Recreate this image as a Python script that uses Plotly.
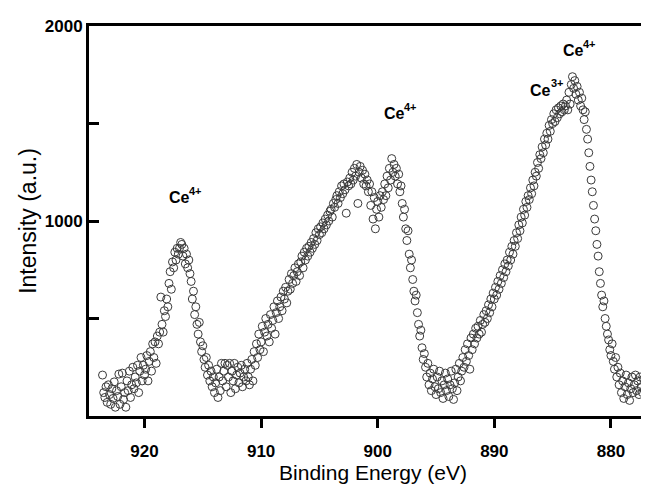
import plotly.graph_objects as go

# Ce 3d XPS spectrum, 0.1 eV steps starting at 923.6 eV (descending)
start_energy = 923.6
energy_step = 0.1

intensity = [
    210, 120, 95, 150, 70, 160,                                  # 923.6-923.1
    110, 60, 140, 90, 175, 45, 130, 100, 215, 60,                # 923.0-922.1
    150, 220, 85, 120, 45, 180, 130, 230, 95, 160,               # 922.0-921.1
    250, 140, 200, 170, 260, 120, 230, 300, 180, 260,            # 921.0-920.1
    210, 240, 310, 180, 280, 330, 230, 370, 300, 380,            # 920.0-919.1
    270, 410, 370, 430, 610, 470, 430, 540, 510, 600,            # 919.0-918.1
    560, 680, 740, 650, 790, 760, 840, 800, 860, 830,            # 918.0-917.1
    860, 890, 880, 820, 860, 780, 830, 760, 800, 730,            # 917.0-916.1
    690, 600, 640, 520, 560, 470, 420, 480, 380, 330,            # 916.0-915.1
    360, 290, 250, 300, 210, 260, 180, 230, 150, 200,            # 915.0-914.1
    120, 170, 240, 95, 200, 130, 270, 180, 230, 270,             # 914.0-913.1
    150, 260, 200, 270, 120, 230, 180, 270, 140, 210,            # 913.0-912.1
    250, 170, 220, 260, 150, 200, 240, 180, 270, 200,            # 912.0-911.1
    160, 240, 290, 180, 330, 260, 370, 300, 420, 340,            # 911.0-910.1
    380, 460, 330, 430, 500, 410, 470, 380, 520, 450,            # 910.0-909.1
    490, 560, 420, 530, 590, 500, 560, 610, 540, 640,            # 909.0-908.1
    600, 660, 580, 640, 700, 650, 730, 680, 720, 760,            # 908.0-907.1
    690, 740, 780, 720, 790, 820, 760, 840, 800, 860,            # 907.0-906.1
    820, 870, 840, 890, 860, 910, 880, 940, 900, 960,            # 906.0-905.1
    930, 970, 940, 990, 960, 1010, 980, 1030, 1000, 1050,        # 905.0-904.1
    1060, 1020, 1090, 1070, 1110, 1130, 1090, 1150, 1120, 1180,  # 904.0-903.1
    1140, 1190, 1160, 1040, 1200, 1180, 1220, 1190, 1250, 1210,  # 903.0-902.1
    1270, 1230, 1290, 1090, 1250, 1280, 1220, 1260, 1190, 1240,  # 902.0-901.1
    1180, 1210, 1150, 1190, 1080, 1150, 1010, 1120, 960, 1060,   # 901.0-900.1
    1100, 1020, 1130, 1070, 1150, 1110, 1190, 1130, 1230, 1170,  # 900.0-899.1
    1270, 1210, 1320, 1250, 1290, 1230, 1270, 1190, 1240, 1150,  # 899.0-898.1
    1180, 1090, 1020, 1060, 960, 900, 950, 830, 760, 800,        # 898.0-897.1
    700, 640, 590, 620, 530, 470, 410, 440, 350, 290,            # 897.0-896.1
    320, 250, 200, 270, 160, 220, 130, 190, 240, 150,            # 896.0-895.1
    110, 200, 140, 230, 120, 180, 90, 160, 220, 130,             # 895.0-894.1
    190, 100, 160, 230, 140, 85, 170, 240, 130, 200,             # 894.0-893.1
    270, 180, 230, 300, 250, 340, 280, 370, 310, 240,            # 893.0-892.1
    400, 340, 420, 370, 450, 400, 460, 420, 490, 430,            # 892.0-891.1
    470, 520, 480, 540, 500, 570, 530, 600, 560, 630,            # 891.0-890.1
    600, 660, 620, 690, 650, 720, 680, 750, 710, 780,            # 890.0-889.1
    740, 800, 770, 840, 800, 870, 830, 900, 870, 940,            # 889.0-888.1
    910, 980, 950, 1020, 990, 1060, 1030, 1100, 1070, 1130,      # 888.0-887.1
    1110, 1170, 1140, 1210, 1180, 1250, 1230, 1300, 1270, 1340,  # 887.0-886.1
    1320, 1380, 1350, 1420, 1390, 1450, 1420, 1490, 1460, 1520,  # 886.0-885.1
    1500, 1550, 1510, 1570, 1530, 1580, 1550, 1590, 1560, 1600,  # 885.0-884.1
    1570, 1590, 1620, 1570, 1660, 1600, 1700, 1740, 1680, 1720,  # 884.0-883.1
    1650, 1690, 1620, 1660, 1590, 1630, 1570, 1520, 1560, 1470,  # 883.0-882.1
    1420, 1350, 1280, 1210, 1150, 1080, 1010, 950, 880, 820,     # 882.0-881.1
    740, 680, 620, 560, 590, 500, 460, 420, 390, 340,            # 881.0-880.1
    310, 370, 280, 240, 300, 200, 250, 160, 220, 120,            # 880.0-879.1
    180, 90, 150, 210, 110, 170, 80, 140, 200, 120,              # 879.0-878.1
    160, 210, 130, 180, 110, 200, 150, 120, 190, 140,            # 878.0-877.1
    210, 170, 110, 200, 160, 230, 130, 190, 250, 170,            # 877.0-876.1
]
energy = [round(start_energy - energy_step * i, 1) for i in range(len(intensity))]

x_ticks = [920, 910, 900, 890, 880]
y_ticks = [1000, 2000]
y_minor_ticks = [500, 1500]

# peak labels: element symbol + oxidation state (superscript)
label_base = ["Ce", "Ce", "Ce", "Ce"]
label_charge = ["4+", "4+", "3+", "4+"]
label_energy = [917.04, 898.6, 886.04, 883.25]
label_intensity = [1119, 1550, 1671, 1872]

FONT = "Liberation Sans, Arial, sans-serif"

fig = go.Figure()
fig.add_trace(go.Scatter(
    x=energy, y=intensity, mode="markers",
    marker=dict(symbol="circle-open", size=8, color="#3a3a3a",
                line=dict(width=1, color="#3a3a3a")),
    showlegend=False,
))

for base, charge, xe, yi in zip(label_base, label_charge, label_energy, label_intensity):
    fig.add_annotation(x=xe, y=yi, xref="x", yref="y", text=base,
                       showarrow=False, xanchor="center", yanchor="middle",
                       font=dict(family=FONT, size=16, color="black", weight="bold"))
    fig.add_annotation(x=xe, y=yi, xref="x", yref="y", text=charge,
                       showarrow=False, xanchor="left", yanchor="middle",
                       xshift=8, yshift=7,
                       font=dict(family=FONT, size=11, color="black", weight="bold"))

fig.update_layout(
    width=649, height=484,
    margin=dict(l=81, r=0, t=18, b=76),
    paper_bgcolor="white", plot_bgcolor="white",
    font=dict(family=FONT, color="black"),
)
fig.update_xaxes(
    range=[924.76, 876.05], showgrid=False, zeroline=False, automargin=False,
    showline=True, linecolor="black", linewidth=3, mirror=True,
    ticks="outside", ticklen=9, tickwidth=3, tickcolor="black",
    tickvals=x_ticks, ticktext=[str(v) for v in x_ticks],
    ticklabelstandoff=9,
    tickfont=dict(family=FONT, size=17, color="black", weight="bold"),
    title=dict(text="Binding Energy (eV)", font=dict(family=FONT, size=21, color="black"), standoff=0),
)
fig.update_yaxes(
    range=[0, 2000], showgrid=False, zeroline=False, automargin=False,
    showline=True, linecolor="black", linewidth=3, mirror=False,
    ticks="inside", ticklen=10, tickwidth=3, tickcolor="black",
    tickvals=y_ticks, ticktext=[str(v) for v in y_ticks],
    minor=dict(tickvals=y_minor_ticks, ticks="inside", ticklen=10, tickwidth=3, tickcolor="black"),
    tickfont=dict(family=FONT, size=17, color="black", weight="bold"),
    title=dict(text="Intensity (a.u.)", font=dict(family=FONT, size=23, color="black"), standoff=2),
)

fig.write_html("out.html")
